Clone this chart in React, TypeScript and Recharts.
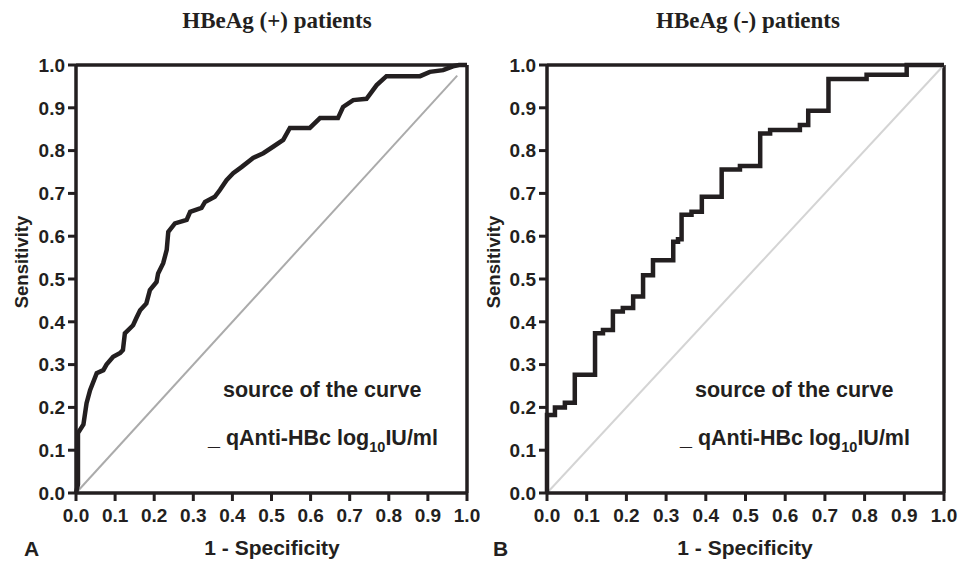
import { LineChart, Line, XAxis, YAxis, ReferenceLine } from "recharts";

// ROC A: HBeAg (+) — 1-specificity / sensitivity
const fprPos = [0, 0.005, 0.005, 0.019, 0.027, 0.036, 0.053, 0.07, 0.078, 0.095, 0.113, 0.12, 0.125, 0.146, 0.155, 0.164, 0.18, 0.189, 0.206, 0.21, 0.223, 0.232, 0.236, 0.253, 0.283, 0.292, 0.321, 0.33, 0.355, 0.368, 0.385, 0.402, 0.424, 0.453, 0.479, 0.504, 0.53, 0.547, 0.598, 0.624, 0.67, 0.683, 0.709, 0.743, 0.769, 0.794, 0.88, 0.905, 0.939, 0.964, 0.98, 1.0];
const tprPos = [0, 0.02, 0.14, 0.16, 0.21, 0.24, 0.28, 0.287, 0.3, 0.318, 0.327, 0.334, 0.373, 0.392, 0.41, 0.427, 0.443, 0.474, 0.493, 0.513, 0.537, 0.568, 0.61, 0.63, 0.638, 0.657, 0.666, 0.68, 0.692, 0.708, 0.731, 0.747, 0.762, 0.783, 0.794, 0.809, 0.825, 0.853, 0.853, 0.876, 0.876, 0.902, 0.918, 0.921, 0.953, 0.974, 0.974, 0.984, 0.988, 0.997, 1.0, 1.0];

// ROC B: HBeAg (-) — step curve corners
const fprNeg = [0, 0, 0.02, 0.045, 0.07, 0.121, 0.141, 0.166, 0.191, 0.217, 0.242, 0.267, 0.318, 0.33, 0.339, 0.364, 0.39, 0.44, 0.486, 0.537, 0.562, 0.637, 0.658, 0.709, 0.805, 0.906, 1.0];
const tprNeg = [0, 0.182, 0.2, 0.211, 0.276, 0.373, 0.381, 0.424, 0.432, 0.459, 0.509, 0.544, 0.587, 0.593, 0.65, 0.657, 0.692, 0.756, 0.764, 0.84, 0.848, 0.86, 0.893, 0.967, 0.977, 1.0, 1.0];

// reference diagonals
const diagPos = [0, 0.975];
const diagNeg = [0, 1];

const ticks = [0, 0.1, 0.2, 0.3, 0.4, 0.5, 0.6, 0.7, 0.8, 0.9, 1.0];

const ink = "#231f20";
const sans = "'Liberation Sans', Arial, sans-serif";
const serif = "'Liberation Serif', 'Times New Roman', serif";
const tickStyle = { fill: ink, fontSize: 19, fontWeight: 700, fontFamily: sans };

const toPts = (xs: number[], ys: number[]) => xs.map((x, i) => ({ x, y: ys[i] }));

function Roc({
  fpr,
  tpr,
  diag,
  diagColor,
  step,
  width,
  margin,
}: {
  fpr: number[];
  tpr: number[];
  diag: number[];
  diagColor: string;
  step: boolean;
  width: number;
  margin: { top: number; right: number; bottom: number; left: number };
}) {
  return (
    <LineChart width={width} height={563} margin={margin}>
      <XAxis
        dataKey="x"
        type="number"
        domain={[0, 1]}
        ticks={ticks}
        tickFormatter={(v: number) => v.toFixed(1)}
        height={30}
        tickSize={8}
        tickMargin={8}
        tick={tickStyle}
        axisLine={{ stroke: ink, strokeWidth: 3.5 }}
        tickLine={{ stroke: ink, strokeWidth: 3 }}
        interval={0}
      />
      <YAxis
        dataKey="y"
        type="number"
        domain={[0, 1]}
        ticks={ticks}
        tickFormatter={(v: number) => v.toFixed(1)}
        width={40}
        tickSize={8}
        tickMargin={3}
        tick={tickStyle}
        axisLine={{ stroke: ink, strokeWidth: 3.5 }}
        tickLine={{ stroke: ink, strokeWidth: 3 }}
        interval={0}
      />
      <ReferenceLine y={1} stroke={ink} strokeWidth={3.5} />
      <ReferenceLine x={1} stroke={ink} strokeWidth={3.5} />
      <Line
        data={toPts(diag, diag)}
        dataKey="y"
        type="linear"
        stroke={diagColor}
        strokeWidth={2}
        dot={false}
        isAnimationActive={false}
      />
      <Line
        data={toPts(fpr, tpr)}
        dataKey="y"
        type={step ? "stepAfter" : "linear"}
        stroke={ink}
        strokeWidth={4.5}
        dot={false}
        isAnimationActive={false}
      />
    </LineChart>
  );
}

export default function App() {
  const bold = { fontFamily: sans, fontWeight: 700, fill: ink } as const;
  return (
    <div style={{ position: "absolute", left: 0, top: 0, width: 958, height: 563, background: "#fff" }}>
      <div style={{ position: "absolute", left: 0, top: 0 }}>
        <Roc
          fpr={fprPos}
          tpr={tprPos}
          diag={diagPos}
          diagColor="#ababab"
          step={false}
          width={480}
          margin={{ top: 65, right: 13, bottom: 40, left: 36 }}
        />
      </div>
      <div style={{ position: "absolute", left: 480, top: 0 }}>
        <Roc
          fpr={fprNeg}
          tpr={tprNeg}
          diag={diagNeg}
          diagColor="#d4d4d4"
          step={true}
          width={478}
          margin={{ top: 65, right: 14, bottom: 40, left: 27 }}
        />
      </div>
      <svg
        width={958}
        height={563}
        style={{ position: "absolute", left: 0, top: 0, pointerEvents: "none" }}
      >
        <text x={277} y={28} textAnchor="middle" fontFamily={serif} fontWeight={700} fontSize={23} fill={ink}>
          HBeAg (+) patients
        </text>
        <text x={748} y={28} textAnchor="middle" fontFamily={serif} fontWeight={700} fontSize={23} fill={ink}>
          HBeAg (-) patients
        </text>

        <text x={28} y={262} textAnchor="middle" transform="rotate(-90 28 262)" fontSize={18.5} {...bold}>
          Sensitivity
        </text>
        <text x={500} y={262} textAnchor="middle" transform="rotate(-90 500 262)" fontSize={18.5} {...bold}>
          Sensitivity
        </text>

        <text x={272} y={555} textAnchor="middle" fontSize={21} {...bold}>
          1 - Specificity
        </text>
        <text x={745} y={555} textAnchor="middle" fontSize={21} {...bold}>
          1 - Specificity
        </text>

        <text x={24} y={556} fontSize={21} {...bold}>A</text>
        <text x={493} y={556} fontSize={21} {...bold}>B</text>

        <text x={223} y={397} fontSize={21.5} {...bold}>source of the curve</text>
        <text x={208} y={445} fontSize={21.5} {...bold}>
          _ qAnti-HBc log<tspan fontSize={14.5} dy={7}>10</tspan>
          <tspan dy={-7}>IU/ml</tspan>
        </text>

        <text x={695} y={397} fontSize={21.5} {...bold}>source of the curve</text>
        <text x={680} y={445} fontSize={21.5} {...bold}>
          _ qAnti-HBc log<tspan fontSize={14.5} dy={7}>10</tspan>
          <tspan dy={-7}>IU/ml</tspan>
        </text>
      </svg>
    </div>
  );
}
